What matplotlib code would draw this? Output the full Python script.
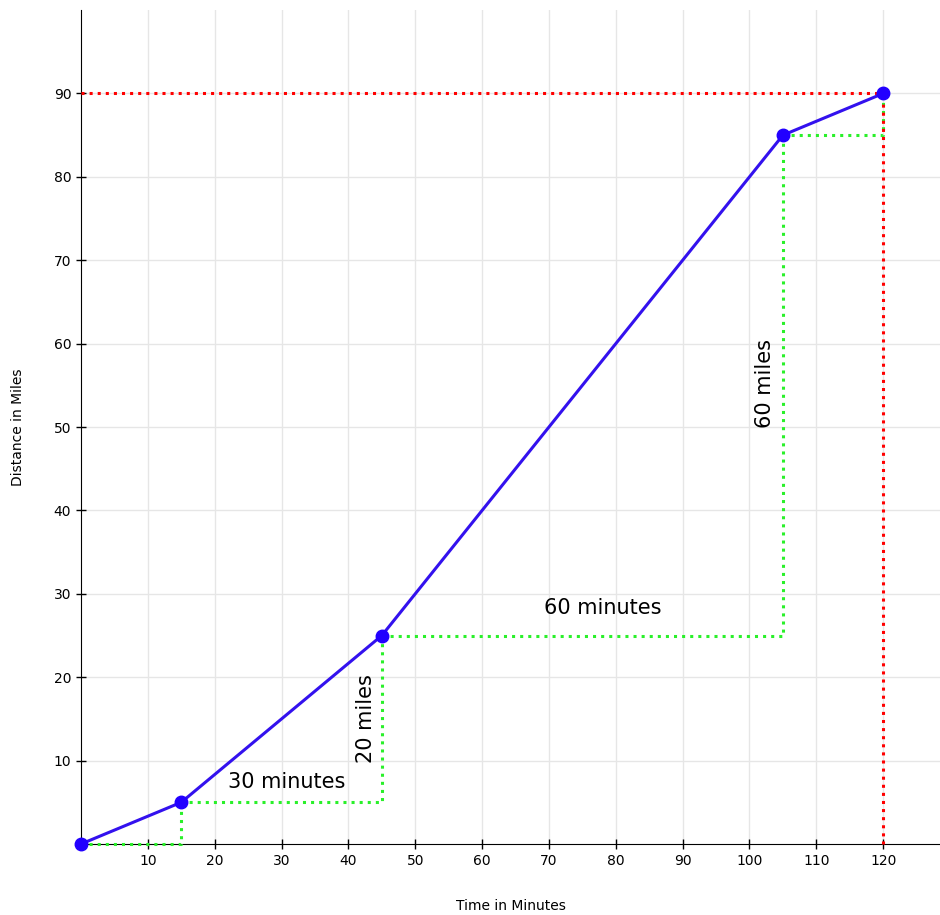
import matplotlib
matplotlib.use('Agg')

import numpy as np
import matplotlib.pyplot as plt

# trip: time (minutes) vs distance (miles)
t = [0, 15, 45, 105, 120]
d = [0, 5, 25, 85, 90]

x_ticks = [10, 20, 30, 40, 50, 60, 70, 80, 90, 100, 110, 120]
y_ticks = [10, 20, 30, 40, 50, 60, 70, 80, 90]

# step annotations: (text, x, y, rotation)
notes = [('30 minutes', 30.8, 7.4, 0),
         ('20 miles', 42.6, 15.1, 90),
         ('60 minutes', 78.1, 28.3, 0),
         ('60 miles', 102.3, 55.2, 90)]

fig = plt.figure(figsize=(9.4, 9.15), dpi=100)
ax = fig.add_axes([0.0862, 0.0776, 0.9138, 0.9114])

# green steps under each segment
for i in range(len(t) - 1):
    ax.plot([t[i], t[i + 1], t[i + 1]], [d[i], d[i], d[i + 1]],
            color='#2af02a', linestyle=':', linewidth=2.2, zorder=3, clip_on=False)

# red guides to the end point
ax.plot([0, t[-1]], [d[-1], d[-1]], color='red', linestyle=':', linewidth=2.2, zorder=3)
ax.plot([t[-1], t[-1]], [0, d[-1]], color='red', linestyle=':', linewidth=2.2, zorder=3,
        clip_on=False)

ax.plot(t, d, color='#3311ee', linewidth=2.2, marker='o', markersize=9,
        markerfacecolor='#2200ff', markeredgecolor='#2200ff', zorder=4, clip_on=False)

for txt, x, y, rot in notes:
    ax.text(x, y, txt, fontsize=15, rotation=rot, ha='center', va='center', zorder=5)

ax.set_xlim(0, 128.5)
ax.set_ylim(0, 100)
ax.set_xticks(x_ticks)
ax.set_yticks(y_ticks)
ax.grid(True, color='#e6e6e6', linewidth=1)
ax.set_axisbelow(True)
ax.spines['top'].set_visible(False)
ax.spines['right'].set_visible(False)
ax.tick_params(direction='inout', length=7, width=1, labelsize=10)

ax.set_xlabel('Time in Minutes', fontsize=10)
ax.set_ylabel('Distance in Miles', fontsize=10)
ax.xaxis.set_label_coords(0.5, -0.0743)
ax.yaxis.set_label_coords(-0.0733, 0.5)
ax.xaxis.label.set_va('center')
ax.yaxis.label.set_va('center')

plt.savefig('out.png', dpi=100)
